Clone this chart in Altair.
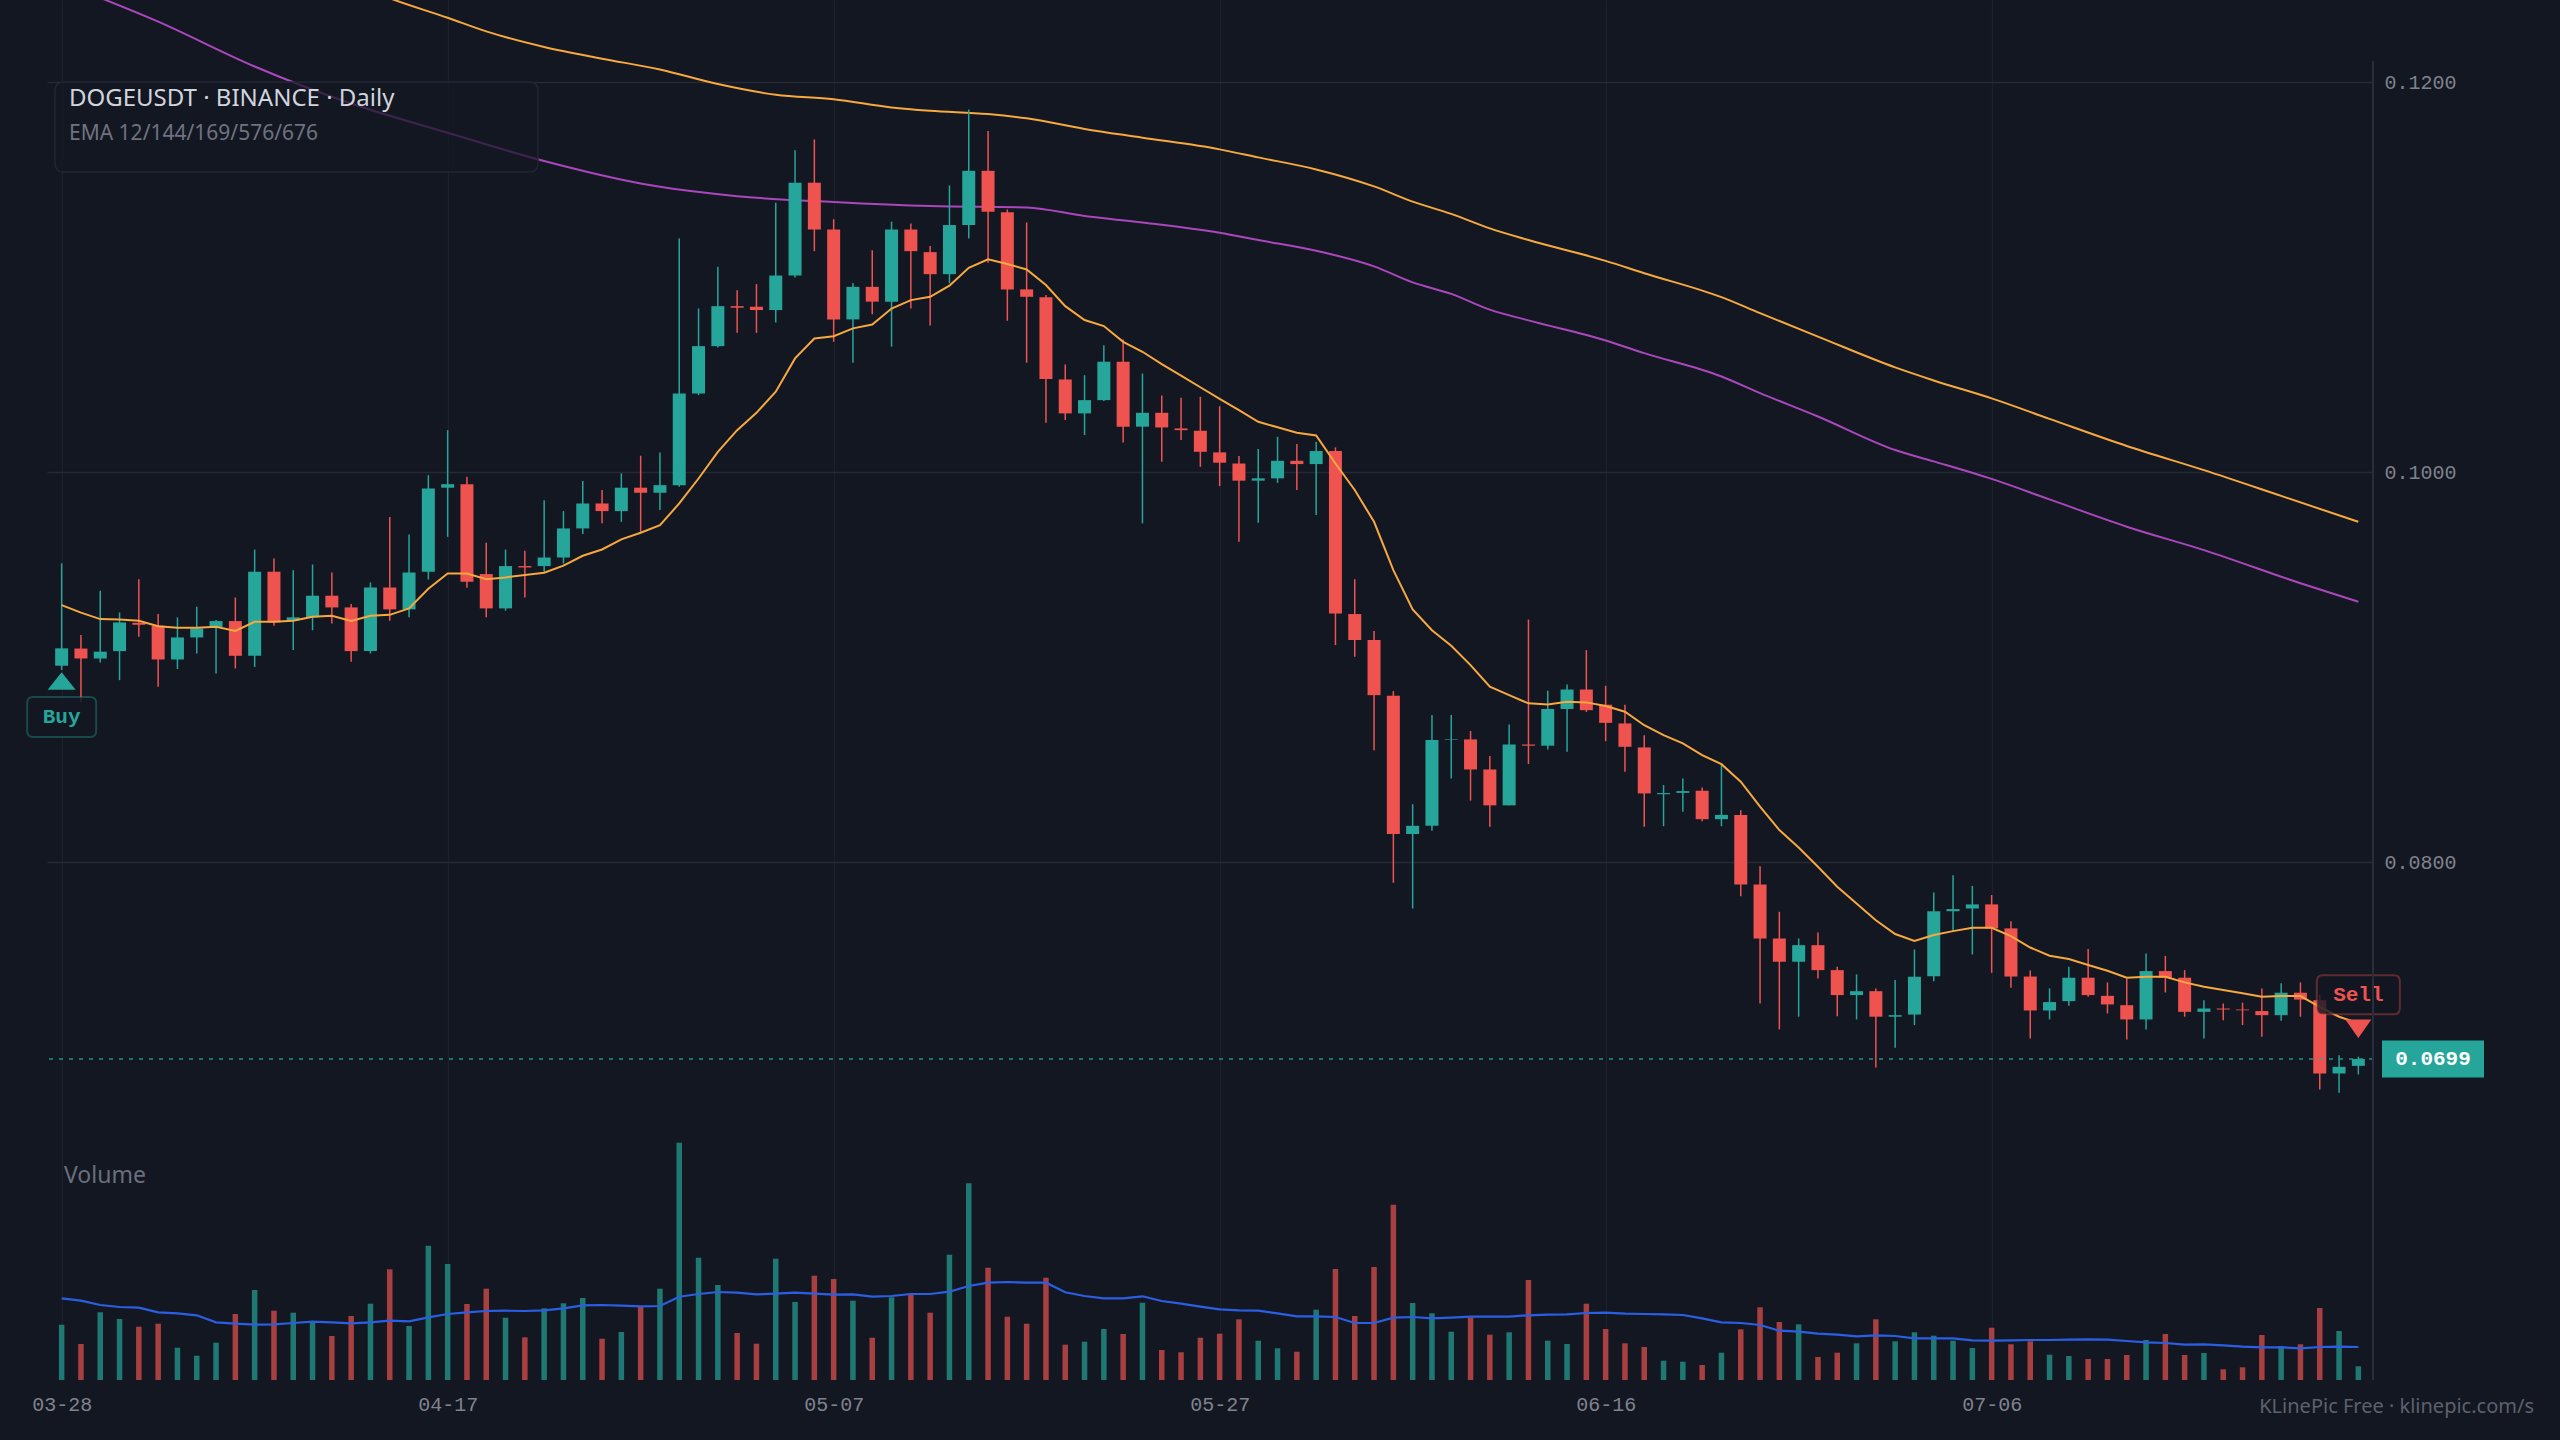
import json

import altair as alt
import numpy as np
import pandas as pd

# ---------------------------------------------------------------------------
# DOGEUSDT daily candles (Binance), 120 sessions starting 03-28
# ---------------------------------------------------------------------------
opens = [
    0.09007, 0.09095, 0.09044, 0.09082, 0.09227, 0.09212, 0.09039, 0.09152, 0.09206, 0.09236,
    0.09058, 0.09489, 0.09241, 0.09255, 0.09366, 0.09306, 0.09082, 0.09408, 0.09296, 0.09489,
    0.09920, 0.09938, 0.09477, 0.09301, 0.09518, 0.09518, 0.09562, 0.09711, 0.09839, 0.09800,
    0.09920, 0.09894, 0.09933, 0.10403, 0.10646, 0.10851, 0.10848, 0.10831, 0.11008, 0.11484,
    0.11244, 0.10783, 0.10950, 0.10874, 0.11244, 0.11128, 0.11015, 0.11267, 0.11545, 0.11333,
    0.10937, 0.10897, 0.10475, 0.10301, 0.10369, 0.10566, 0.10233, 0.10304, 0.10224, 0.10212,
    0.10101, 0.10044, 0.09956, 0.09968, 0.10058, 0.10041, 0.10108, 0.09272, 0.09139, 0.08853,
    0.08144, 0.08186, 0.08626, 0.08629, 0.08475, 0.08291, 0.08603, 0.08597, 0.08785, 0.08885,
    0.08807, 0.08711, 0.08588, 0.08348, 0.08355, 0.08366, 0.08220, 0.08242, 0.07885, 0.07608,
    0.07489, 0.07574, 0.07446, 0.07318, 0.07338, 0.07207, 0.07218, 0.07415, 0.07748, 0.07762,
    0.07783, 0.07660, 0.07413, 0.07239, 0.07287, 0.07407, 0.07314, 0.07266, 0.07193, 0.07441,
    0.07407, 0.07232, 0.07249, 0.07244, 0.07236, 0.07215, 0.07330, 0.07292, 0.06916, 0.06955,
]
highs = [
    0.09532, 0.09164, 0.09391, 0.09280, 0.09451, 0.09272, 0.09255, 0.09309, 0.09241, 0.09357,
    0.09603, 0.09557, 0.09497, 0.09526, 0.09485, 0.09323, 0.09434, 0.09770, 0.09680, 0.09984,
    0.10215, 0.09976, 0.09637, 0.09603, 0.09596, 0.09856, 0.09800, 0.09954, 0.09908, 0.09993,
    0.10084, 0.10101, 0.11198, 0.10839, 0.11053, 0.10933, 0.10964, 0.11381, 0.11651, 0.11706,
    0.11297, 0.10968, 0.11138, 0.11284, 0.11275, 0.11159, 0.11470, 0.11860, 0.11749, 0.11347,
    0.11280, 0.10908, 0.10552, 0.10497, 0.10651, 0.10680, 0.10506, 0.10393, 0.10381, 0.10386,
    0.10338, 0.10082, 0.10118, 0.10181, 0.10144, 0.10156, 0.10127, 0.09450, 0.09185, 0.08877,
    0.08297, 0.08754, 0.08754, 0.08672, 0.08544, 0.08706, 0.09244, 0.08879, 0.08911, 0.09087,
    0.08904, 0.08807, 0.08651, 0.08395, 0.08429, 0.08383, 0.08502, 0.08266, 0.07979, 0.07745,
    0.07608, 0.07639, 0.07463, 0.07424, 0.07352, 0.07395, 0.07552, 0.07844, 0.07933, 0.07878,
    0.07831, 0.07697, 0.07444, 0.07352, 0.07463, 0.07554, 0.07383, 0.07403, 0.07531, 0.07519,
    0.07446, 0.07292, 0.07275, 0.07279, 0.07352, 0.07378, 0.07383, 0.07318, 0.07010, 0.07002,
]
lows = [
    0.08985, 0.08820, 0.09024, 0.08933, 0.09155, 0.08899, 0.08990, 0.09070, 0.08967, 0.08993,
    0.09001, 0.09212, 0.09087, 0.09189, 0.09224, 0.09027, 0.09070, 0.09237, 0.09255, 0.09449,
    0.09668, 0.09407, 0.09255, 0.09289, 0.09357, 0.09489, 0.09531, 0.09682, 0.09737, 0.09745,
    0.09694, 0.09805, 0.09925, 0.10395, 0.10639, 0.10714, 0.10714, 0.10767, 0.10998, 0.11133,
    0.10668, 0.10561, 0.10809, 0.10643, 0.10839, 0.10752, 0.10968, 0.11198, 0.11074, 0.10776,
    0.10561, 0.10253, 0.10267, 0.10190, 0.10365, 0.10152, 0.09737, 0.10053, 0.10164, 0.10027,
    0.09928, 0.09643, 0.09740, 0.09945, 0.09908, 0.09780, 0.09113, 0.09053, 0.08574, 0.07894,
    0.07762, 0.08161, 0.08429, 0.08315, 0.08181, 0.08291, 0.08503, 0.08578, 0.08566, 0.08770,
    0.08620, 0.08463, 0.08181, 0.08184, 0.08258, 0.08210, 0.08184, 0.07825, 0.07275, 0.07142,
    0.07207, 0.07403, 0.07210, 0.07193, 0.06947, 0.07048, 0.07164, 0.07389, 0.07648, 0.07526,
    0.07432, 0.07355, 0.07095, 0.07193, 0.07263, 0.07310, 0.07224, 0.07090, 0.07142, 0.07331,
    0.07207, 0.07095, 0.07189, 0.07164, 0.07104, 0.07186, 0.07207, 0.06834, 0.06817, 0.06911,
]
closes = [
    0.09096, 0.09044, 0.09079, 0.09229, 0.09217, 0.09039, 0.09152, 0.09198, 0.09236, 0.09058,
    0.09489, 0.09229, 0.09255, 0.09366, 0.09306, 0.09082, 0.09408, 0.09296, 0.09485, 0.09916,
    0.09938, 0.09437, 0.09301, 0.09518, 0.09511, 0.09562, 0.09711, 0.09839, 0.09800, 0.09920,
    0.09894, 0.09933, 0.10403, 0.10646, 0.10851, 0.10843, 0.10831, 0.11008, 0.11484, 0.11244,
    0.10783, 0.10950, 0.10874, 0.11244, 0.11133, 0.11015, 0.11267, 0.11545, 0.11335, 0.10937,
    0.10899, 0.10477, 0.10301, 0.10369, 0.10566, 0.10233, 0.10304, 0.10229, 0.10215, 0.10104,
    0.10048, 0.09956, 0.09968, 0.10058, 0.10041, 0.10108, 0.09275, 0.09139, 0.08856, 0.08144,
    0.08186, 0.08626, 0.08629, 0.08475, 0.08291, 0.08603, 0.08597, 0.08785, 0.08885, 0.08779,
    0.08714, 0.08591, 0.08352, 0.08354, 0.08364, 0.08220, 0.08242, 0.07885, 0.07608, 0.07489,
    0.07574, 0.07446, 0.07318, 0.07338, 0.07207, 0.07215, 0.07412, 0.07748, 0.07759, 0.07783,
    0.07660, 0.07413, 0.07239, 0.07282, 0.07407, 0.07318, 0.07270, 0.07193, 0.07441, 0.07407,
    0.07232, 0.07249, 0.07244, 0.07240, 0.07215, 0.07330, 0.07295, 0.06916, 0.06950, 0.06990,
]
# daily traded volume (millions of DOGE) and its moving average
volumes = [
    553, 360, 677, 610, 533, 563, 323, 243, 373, 660,
    900, 693, 673, 590, 440, 640, 763, 1107, 540, 1343,
    1160, 760, 913, 623, 427, 717, 767, 820, 413, 480,
    733, 913, 2373, 1223, 950, 470, 363, 1213, 780, 1043,
    1010, 793, 423, 827, 860, 673, 1253, 1967, 1123, 633,
    563, 1023, 353, 383, 510, 460, 773, 300, 277, 423,
    463, 607, 393, 317, 283, 703, 1110, 640, 1130, 1753,
    770, 667, 483, 627, 453, 477, 1000, 393, 360, 763,
    510, 367, 330, 193, 183, 150, 273, 507, 727, 580,
    557, 230, 273, 367, 607, 387, 477, 443, 393, 320,
    523, 357, 387, 253, 240, 210, 210, 250, 400, 460,
    250, 270, 107, 127, 450, 340, 357, 720, 490, 137,
]
volume_ma = [
    817, 793, 750, 730, 723, 677, 667, 647, 577, 563,
    553, 557, 570, 583, 577, 567, 577, 593, 587, 627,
    660, 677, 690, 693, 690, 697, 717, 747, 750, 743,
    737, 740, 833, 860, 880, 873, 857, 863, 873, 863,
    853, 857, 833, 840, 860, 860, 883, 940, 973, 980,
    973, 973, 877, 840, 817, 817, 837, 790, 763, 733,
    707, 697, 693, 667, 637, 637, 630, 570, 570, 623,
    630, 617, 623, 633, 633, 633, 647, 653, 657, 670,
    673, 663, 660, 657, 650, 617, 577, 570, 550, 493,
    483, 463, 453, 437, 447, 440, 417, 417, 417, 397,
    393, 397, 400, 400, 403, 407, 403, 390, 377, 370,
    353, 357, 347, 333, 327, 327, 317, 330, 333, 330,
]
# EMA 12 of the close
ema12 = [
    0.09318, 0.09279, 0.09246, 0.09244, 0.09238, 0.09210, 0.09202, 0.09202, 0.09207, 0.09185,
    0.09232, 0.09232, 0.09238, 0.09258, 0.09263, 0.09236, 0.09263, 0.09268, 0.09301, 0.09402,
    0.09480, 0.09480, 0.09451, 0.09460, 0.09472, 0.09484, 0.09520, 0.09571, 0.09603, 0.09655,
    0.09689, 0.09728, 0.09839, 0.09967, 0.10104, 0.10215, 0.10304, 0.10412, 0.10583, 0.10685,
    0.10697, 0.10737, 0.10757, 0.10839, 0.10882, 0.10899, 0.10956, 0.11048, 0.11091, 0.11067,
    0.11039, 0.10959, 0.10851, 0.10780, 0.10749, 0.10668, 0.10617, 0.10554, 0.10495, 0.10435,
    0.10375, 0.10318, 0.10258, 0.10230, 0.10202, 0.10188, 0.10044, 0.09908, 0.09745, 0.09497,
    0.09296, 0.09189, 0.09109, 0.09010, 0.08899, 0.08856, 0.08814, 0.08808, 0.08822, 0.08819,
    0.08800, 0.08771, 0.08702, 0.08651, 0.08609, 0.08549, 0.08502, 0.08412, 0.08284, 0.08164,
    0.08075, 0.07976, 0.07874, 0.07788, 0.07702, 0.07631, 0.07595, 0.07626, 0.07646, 0.07663,
    0.07663, 0.07620, 0.07562, 0.07520, 0.07503, 0.07472, 0.07443, 0.07407, 0.07412, 0.07412,
    0.07383, 0.07361, 0.07344, 0.07327, 0.07310, 0.07313, 0.07313, 0.07258, 0.07207, 0.07174,
]
# slow EMAs (smooth, sampled along the session index)
ema144_idx = [0, 5, 10, 15, 20, 25, 30, 35, 40, 45, 50, 53, 56, 60, 62, 65, 68, 70, 72, 74,
              76, 80, 82, 86, 88, 91, 95, 97, 100, 103, 107, 111, 116, 119]
ema144 = [0.12510, 0.12310, 0.12080, 0.11890, 0.11740, 0.11595, 0.11480, 0.11415, 0.11385, 0.11364,
          0.11357, 0.11313, 0.11280, 0.11227, 0.11190, 0.11135, 0.11055, 0.10973, 0.10914, 0.10833,
          0.10778, 0.10675, 0.10610, 0.10490, 0.10405, 0.10285, 0.10113, 0.10055, 0.09965, 0.09860,
          0.09720, 0.09600, 0.09430, 0.09335]
ema169_idx = [15, 17, 20, 22, 25, 28, 31, 34, 37, 40, 43, 45, 48, 50, 53, 56, 60, 62, 65, 68,
              70, 72, 74, 76, 80, 82, 86, 88, 91, 95, 97, 100, 103, 107, 111, 115, 119]
ema169 = [0.12510, 0.12430, 0.12330, 0.12260, 0.12180, 0.12120, 0.12065, 0.11990, 0.11935, 0.11912,
          0.11870, 0.11853, 0.11836, 0.11814, 0.11760, 0.11715, 0.11655, 0.11614, 0.11552, 0.11465,
          0.11387, 0.11324, 0.11250, 0.11190, 0.11083, 0.11020, 0.10897, 0.10815, 0.10695, 0.10537,
          0.10470, 0.10378, 0.10273, 0.10134, 0.10010, 0.09878, 0.09745]

tick_index = [0, 20, 40, 60, 80, 100]
tick_labels = ["03-28", "04-17", "05-07", "05-27", "06-16", "07-06"]
price_ticks = [0.08, 0.10, 0.12]

TITLE = "DOGEUSDT · BINANCE · Daily"
SUBTITLE = "EMA 12/144/169/576/676"
WATERMARK = "KLinePic Free · klinepic.com/s"

# ---------------------------------------------------------------------------
# styling
# ---------------------------------------------------------------------------
BG = "#131722"
UP = "#26a69a"
DOWN = "#ef5350"
EMA_FAST = "#f7a83e"
EMA_SLOW_A = "#ab47bc"
EMA_SLOW_B = "#f7a83e"
VOL_MA = "#2b5fe3"
AXIS_TXT = "#80838d"
MONO = "Liberation Mono"
SANS = "Noto Sans"

W, H = 2326, 1380           # plot area
PAD = {"left": 47, "top": 0, "right": 187, "bottom": 60}
P_LO, P_HI = 0.05344, 0.12421   # visible price range of the pane
VOL_HI = 13800                  # volume pane occupies the lower part of the view


def box_shape(w, h, r=0.0):
    """Unit-space SVG path for a (rounded) rectangle, plus the symbol size giving w x h px."""
    hw, hh = 1.0, h / w
    rr = r / (w / 2)
    if rr <= 0:
        path = f"M-1,{-hh:.4f}L1,{-hh:.4f}L1,{hh:.4f}L-1,{hh:.4f}Z"
    else:
        a, b = hw - rr, hh - rr
        path = (f"M{-a:.4f},{-hh:.4f}L{a:.4f},{-hh:.4f}Q1,{-hh:.4f} 1,{-b:.4f}"
                f"L1,{b:.4f}Q1,{hh:.4f} {a:.4f},{hh:.4f}L{-a:.4f},{hh:.4f}"
                f"Q-1,{hh:.4f} -1,{b:.4f}L-1,{-b:.4f}Q-1,{-hh:.4f} {-a:.4f},{-hh:.4f}Z")
    return path, w * w


N = len(closes)
candles = pd.DataFrame({
    "i": np.arange(N), "open": opens, "high": highs, "low": lows, "close": closes,
    "volume": volumes, "volume_ma": volume_ma, "ema12": ema12,
})
candles["dir"] = np.where(candles["close"] >= candles["open"], "up", "down")
slow_a = pd.DataFrame({"i": ema144_idx, "ema": ema144})
slow_b = pd.DataFrame({"i": ema169_idx, "ema": ema169})
first = candles.head(1)
last = candles.tail(1)
one = pd.DataFrame({"k": [0]})

x_scale = alt.Scale(domain=[-0.5, N - 0.5], nice=False, zero=False)
p_scale = alt.Scale(domain=[P_LO, P_HI], nice=False, zero=False)
v_scale = alt.Scale(domain=[0, VOL_HI], nice=False)
dir_color = alt.Color("dir:N", scale=alt.Scale(domain=["up", "down"], range=[UP, DOWN]), legend=None)

label_expr = f"{json.dumps(tick_labels)}[round(datum.value / {tick_index[1]})]"
x_axis = alt.Axis(values=tick_index, labelExpr=label_expr, grid=True, gridColor="#1c202b",
                  gridWidth=1.3, domain=False, ticks=False, tickSize=0, labelColor=AXIS_TXT,
                  labelFont=MONO, labelFontSize=20, labelPadding=14, labelFlush=False, title=None)
y_axis = alt.Axis(orient="right", values=price_ticks, format=".4f", grid=True, gridColor="#252936",
                  gridWidth=1.3, domain=False, ticks=False, tickSize=0, labelColor=AXIS_TXT,
                  labelFont=MONO, labelFontSize=20, labelPadding=11, title=None)

# one shared time axis definition for every layer that encodes the session index
X = alt.X("i:Q", scale=x_scale, axis=x_axis)


def PY(field, axis=None):
    return alt.Y(field, type="quantitative", scale=p_scale, axis=axis)


base = alt.Chart(candles)

# volume pane
vol_bars = base.mark_bar(size=5.5, opacity=0.68).encode(
    x=X, y=alt.Y("volume:Q", scale=v_scale, axis=None), color=dir_color)
vol_line = base.mark_line(color=VOL_MA, strokeWidth=2.2).encode(
    x=X, y=alt.Y("volume_ma:Q", scale=v_scale, axis=None))

# slow EMAs
slow_a_line = alt.Chart(slow_a).mark_line(color=EMA_SLOW_A, strokeWidth=2, clip=True,
                                          interpolate="monotone").encode(x=X, y=PY("ema"))
slow_b_line = alt.Chart(slow_b).mark_line(color=EMA_SLOW_B, strokeWidth=2, clip=True,
                                          interpolate="monotone").encode(x=X, y=PY("ema"))

# candles
wicks = base.mark_rule(strokeWidth=1.5).encode(
    x=X, y=PY("low", y_axis), y2="high:Q", color=dir_color)
bodies = base.mark_bar(size=13).encode(x=X, y=PY("open"), y2="close:Q", color=dir_color)
fast_line = base.mark_line(color=EMA_FAST, strokeWidth=2).encode(x=X, y=PY("ema12"))

# last price guide
last_rule = alt.Chart(last).mark_rule(color=UP, strokeDash=[4, 6], strokeWidth=1.5, opacity=0.85).encode(
    y=PY("close"))

# legend panel
legend_box = alt.Chart(one).mark_rect(cornerRadius=8, fill=BG, fillOpacity=0.72, stroke="#222634",
                                      strokeWidth=1.5).encode(
    x=alt.value(8), x2=alt.value(491), y=alt.value(82), y2=alt.value(172))
title_txt = alt.Chart(pd.DataFrame({"t": [TITLE]})).mark_text(
    align="left", baseline="alphabetic", font=SANS, fontSize=24, color="#d1d4dc").encode(
    x=alt.value(22), y=alt.value(106), text="t:N")
sub_txt = alt.Chart(pd.DataFrame({"t": [SUBTITLE]})).mark_text(
    align="left", baseline="alphabetic", font=SANS, fontSize=21, color="#6f7380").encode(
    x=alt.value(22), y=alt.value(140), text="t:N")
vol_txt = alt.Chart(pd.DataFrame({"t": ["Volume"]})).mark_text(
    align="left", baseline="alphabetic", font=SANS, fontSize=23, color="#6b6f7b").encode(
    x=alt.value(17), y=alt.value(1183), text="t:N")

# buy / sell signals
tri_up = "M-1,0.63L0,-0.63L1,0.63Z"
tri_dn = "M-1,-0.715L1,-0.715L0,0.715Z"
buy_box_path, buy_box_size = box_shape(69, 40, 6)
sell_box_path, sell_box_size = box_shape(83, 39, 6)

buy_tri = alt.Chart(first).mark_point(shape=tri_up, size=784, filled=True, color=UP, opacity=1,
                                      yOffset=11).encode(x=X, y=PY("low"))
buy_box = alt.Chart(first).mark_point(shape=buy_box_path, size=buy_box_size, filled=True, fill=BG,
                                      fillOpacity=0.85, stroke=UP, strokeOpacity=0.35, strokeWidth=2,
                                      opacity=1, yOffset=47).encode(x=X, y=PY("low"))
buy_txt = alt.Chart(first).mark_text(text="Buy", font=MONO, fontSize=21, fontWeight="bold", color=UP,
                                     baseline="middle", yOffset=47).encode(x=X, y=PY("low"))

sell_box = alt.Chart(last).mark_point(shape=sell_box_path, size=sell_box_size, filled=True, fill=BG,
                                      fillOpacity=0.8, stroke=DOWN, strokeOpacity=0.35, strokeWidth=2,
                                      opacity=1, yOffset=-62).encode(x=X, y=PY("high"))
sell_txt = alt.Chart(last).mark_text(text="Sell", font=MONO, fontSize=21, fontWeight="bold", color=DOWN,
                                     baseline="middle", yOffset=-62).encode(x=X, y=PY("high"))
sell_tri = alt.Chart(last).mark_point(shape=tri_dn, size=676, filled=True, color=DOWN, opacity=1,
                                      yOffset=-28).encode(x=X, y=PY("high"))

# last price tag on the price scale
tag_path, tag_size = box_shape(102, 37)
tag_box = alt.Chart(last).mark_point(shape=tag_path, size=tag_size, filled=True, color=UP,
                                     opacity=1).encode(x=alt.value(W + 60), y=PY("close"))
tag_txt = alt.Chart(last).mark_text(font=MONO, fontSize=21, fontWeight="bold", color="#ffffff",
                                    baseline="middle").encode(
    x=alt.value(W + 60), y=PY("close"), text=alt.Text("close:Q", format=".4f"))

# price-scale separator and footer
scale_edge = alt.Chart(one).mark_rule(color="#2a2e39", strokeWidth=2).encode(
    x=alt.value(W), y=alt.value(61), y2=alt.value(H))
footer = alt.Chart(pd.DataFrame({"t": [WATERMARK]})).mark_text(
    align="right", baseline="alphabetic", font=SANS, fontSize=20, color="#5d616d").encode(
    x=alt.value(2487), y=alt.value(1413), text="t:N")

chart = alt.layer(
    vol_bars, vol_line, slow_a_line, slow_b_line, wicks, bodies, fast_line, last_rule,
    legend_box, title_txt, sub_txt, vol_txt,
    buy_tri, buy_box, buy_txt, sell_box, sell_txt, sell_tri,
    tag_box, tag_txt, scale_edge, footer,
).resolve_scale(y="independent").properties(
    width=W, height=H, padding=PAD, autosize=alt.AutoSizeParams(type="none"), background=BG,
).configure_view(stroke=None)

chart.save("out.html", embed_options={"renderer": "svg", "actions": False})
